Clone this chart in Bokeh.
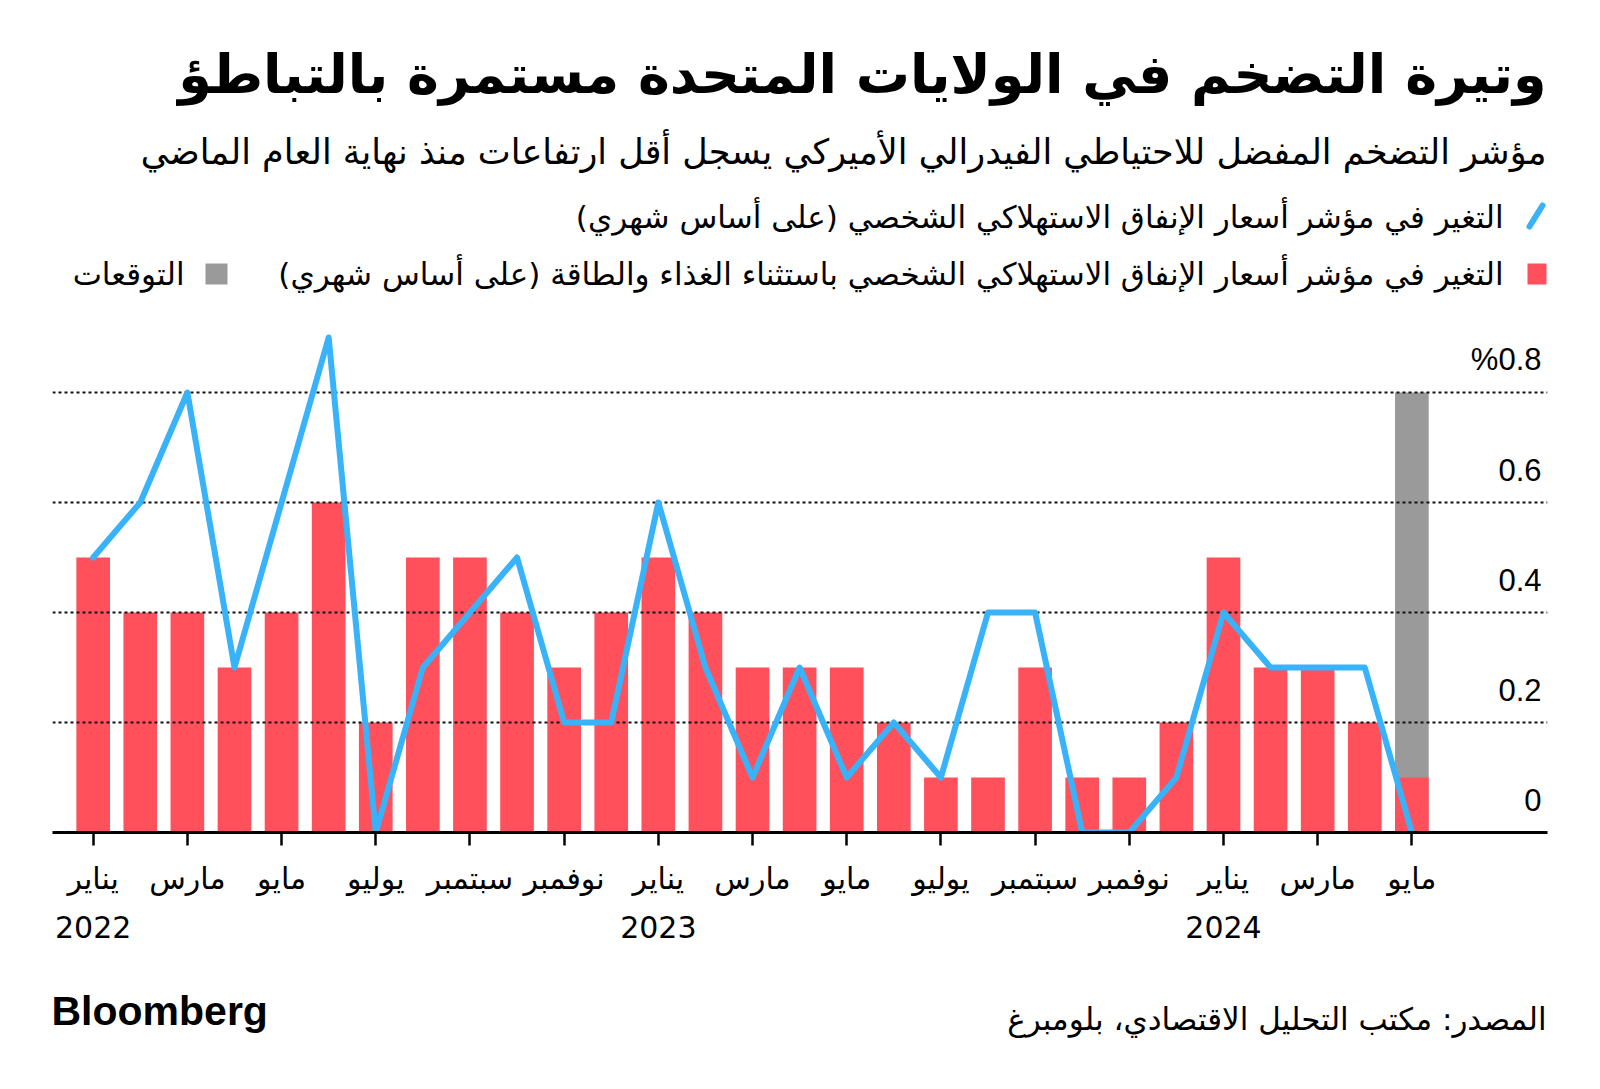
from bokeh.plotting import figure
from bokeh.models import Range1d, Label, FixedTicker
from bokeh.layouts import column
from bokeh.embed import file_html
from bokeh.resources import INLINE
from bokeh.core.properties import value

# ---------------- data ----------------
months_ar = ["يناير", "فبراير", "مارس", "أبريل", "مايو", "يونيو",
             "يوليو", "أغسطس", "سبتمبر", "أكتوبر", "نوفمبر", "ديسمبر"]
years = [2022] * 12 + [2023] * 12 + [2024] * 5
month_idx = list(range(12)) + list(range(12)) + list(range(5))

# monthly change in core PCE (ex food & energy), %
core_pce = [0.5, 0.4, 0.4, 0.3, 0.4, 0.6, 0.2, 0.5, 0.5, 0.4, 0.3, 0.4,
            0.5, 0.4, 0.3, 0.3, 0.3, 0.2, 0.1, 0.1, 0.3, 0.1, 0.1, 0.2,
            0.5, 0.3, 0.3, 0.2, 0.1]
# monthly change in headline PCE, %
headline_pce = [0.5, 0.6, 0.8, 0.3, 0.6, 0.9, 0.0, 0.3, 0.4, 0.5, 0.2, 0.2,
                0.6, 0.3, 0.1, 0.3, 0.1, 0.2, 0.1, 0.4, 0.4, 0.0, 0.0, 0.1,
                0.4, 0.3, 0.3, 0.3, 0.0]
# forecast
forecast_period = [(2024, 4)]
forecast_value = [0.8]

y_ticks = [0, 0.2, 0.4, 0.6, 0.8]
y_tick_labels = ["0", "0.2", "0.4", "0.6", "%0.8"]

title = "وتيرة التضخم في الولايات المتحدة مستمرة بالتباطؤ"
subtitle = "مؤشر التضخم المفضل للاحتياطي الفيدرالي الأميركي يسجل أقل ارتفاعات منذ نهاية العام الماضي"
legend_line = "التغير في مؤشر أسعار الإنفاق الاستهلاكي الشخصي (على أساس شهري)"
legend_bar = "التغير في مؤشر أسعار الإنفاق الاستهلاكي الشخصي باستثناء الغذاء والطاقة (على أساس شهري)"
legend_fc = "التوقعات"
source_txt = "المصدر: مكتب التحليل الاقتصادي، بلومبرغ"

# ---------------- style ----------------
RED = "#ff505c"
BLUE = "#38b2f8"
GRAY = "#9a9a9a"
AR = "DejaVu Sans"
LAT = "Liberation Sans"
RLM = "\u200f"
W = 1584
FL, FR = 52, 1547          # frame left / right (page px)
HDR_H, CH_H, FT_H = 320, 640, 118


def rtl(s):
    return RLM + s + RLM


def blank(y0, h):
    f = figure(width=W, height=h, x_range=Range1d(FL, FR), y_range=Range1d(y0 + h, y0),
               output_backend="svg", toolbar_location=None,
               min_border_left=FL, min_border_right=W - FR, min_border_top=0, min_border_bottom=0,
               x_axis_location=None, y_axis_location=None, outline_line_color=None)
    f.grid.visible = False
    return f


def lab(f, x, y, text, align, size, font=AR, bold=False):
    f.add_layout(Label(x=x, y=y, text=text, text_align=align, text_baseline="middle",
                       text_font=font, text_font_style="bold" if bold else "normal",
                       text_font_size=size, text_color="#000000"))


# ---------------- header ----------------
hdr = blank(0, HDR_H)
lab(hdr, 1546, 74, rtl(title), "right", "54px", bold=True)
lab(hdr, 1546, 151, rtl(subtitle), "right", "35px")
lab(hdr, 1503, 216, rtl(legend_line), "right", "31px")
lab(hdr, 1503, 273, rtl(legend_bar), "right", "31px")
lab(hdr, 184, 273, rtl(legend_fc), "right", "31px")
hdr.line([1529, 1542], [226, 205], line_color=BLUE, line_width=6, line_cap="round")
hdr.quad(left=[1527], right=[1546], top=[263], bottom=[284], fill_color=RED, line_color=None)
hdr.quad(left=[205], right=[227], top=[263], bottom=[284], fill_color=GRAY, line_color=None)

# ---------------- chart ----------------
xs = list(range(len(core_pce)))
periods = list(zip(years, month_idx))
fx = [periods.index(fp) for fp in forecast_period]

X0, X1 = -0.864, 30.88
p = figure(width=W, height=CH_H, x_range=Range1d(X0, X1), y_range=Range1d(0, 512 / 550),
           output_backend="svg", toolbar_location=None,
           min_border_left=FL, min_border_right=W - FR, min_border_top=0, min_border_bottom=128,
           y_axis_location=None, outline_line_color=None)

p.xgrid.visible = False
p.ygrid.ticker = FixedTicker(ticks=y_ticks[1:])
p.ygrid.grid_line_color = "#111111"
p.ygrid.grid_line_width = 1.8
p.ygrid.grid_line_dash = "3 3"
p.ygrid.level = "underlay"

p.vbar(x=fx, top=forecast_value, width=0.715, fill_color=GRAY, line_color=None, level="image")
p.vbar(x=xs, top=core_pce, width=0.715, fill_color=RED, line_color=None, level="image")
p.line(xs, headline_pce, line_color=BLUE, line_width=6, line_join="round", line_cap="round",
       level="glyph")

p.text(x=[X1] * len(y_ticks), y=y_ticks, text=y_tick_labels, x_offset=-6, y_offset=-33,
       text_align="right", text_baseline="middle", text_font=value(LAT),
       text_font_size="31px", text_color="#000000")

tick_pos = xs[::2]
overrides = {}
for i in tick_pos:
    y, m = periods[i]
    overrides[i] = months_ar[m] + ("\n" + str(y) if m == 0 else "")
ax = p.xaxis[0]
ax.ticker = FixedTicker(ticks=tick_pos)
ax.major_label_overrides = overrides
ax.axis_line_color = "#000000"
ax.axis_line_width = 3
ax.major_tick_line_color = "#000000"
ax.major_tick_line_width = 2.5
ax.major_tick_out = 13
ax.major_tick_in = 0
ax.minor_tick_line_color = None
ax.major_label_standoff = 15
ax.major_label_text_font = AR
ax.major_label_text_font_size = "30px"
ax.major_label_text_color = "#000000"
ax.major_label_text_line_height = 1.4

# ---------------- footer ----------------
ftr = blank(HDR_H + CH_H, FT_H)
lab(ftr, 51, 1010, "Bloomberg", "left", "41px", font=LAT, bold=True)
lab(ftr, 1546, 1018, rtl(source_txt), "right", "31px")

layout = column(hdr, p, ftr, spacing=0)
open("out.html", "w").write(file_html(layout, INLINE))
